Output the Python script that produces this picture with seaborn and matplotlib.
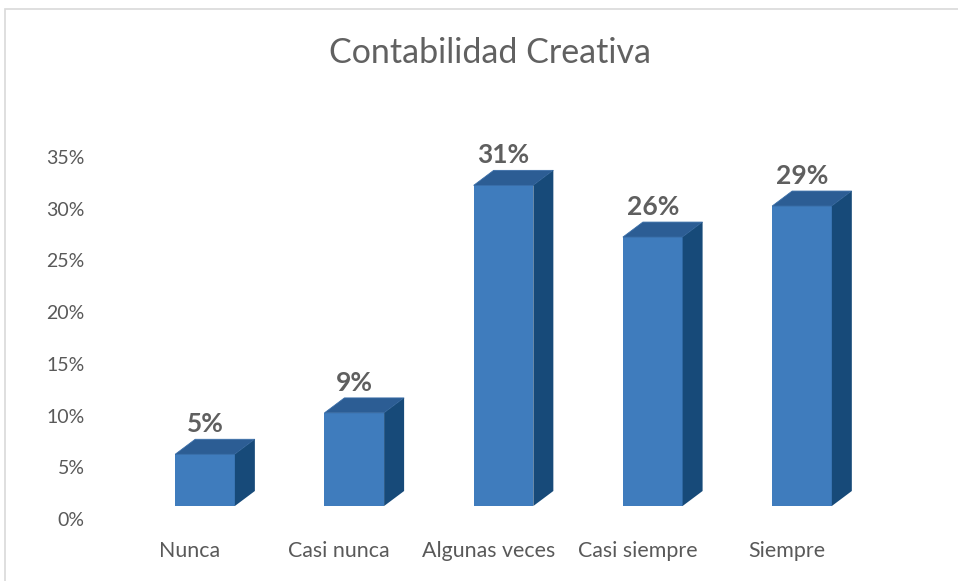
import matplotlib
matplotlib.use("Agg")
import matplotlib.pyplot as plt
import seaborn as sns
import pandas as pd
from matplotlib.patches import Polygon, Rectangle

categories = ["Nunca", "Casi nunca", "Algunas veces", "Casi siempre", "Siempre"]
values = [5, 9, 31, 26, 29]
labels = ["5%", "9%", "31%", "26%", "29%"]
yticks = [0, 5, 10, 15, 20, 25, 30, 35]
ytick_labels = ["0%", "5%", "10%", "15%", "20%", "25%", "30%", "35%"]
title = "Contabilidad Creativa"

sns.set_theme(style="white")
plt.rcParams["font.family"] = ["Lato", "DejaVu Sans"]

W, H = 958, 581
fig = plt.figure(figsize=(W / 100, H / 100), dpi=100)
fig.patch.set_facecolor("white")

# chart border
fig.patches.append(Rectangle((5 / W, -0.05), 1.0, 1 - 9 / H + 0.05, transform=fig.transFigure,
                             fill=False, edgecolor="#d9d9d9", linewidth=1.2))

TXT = "#595959"
ax_left, ax_w = 115.4, 746.2
unit = 10.343
ax = fig.add_axes([ax_left / W, 62 / H, ax_w / W, 35 * unit / H])
ax_bar = fig.add_axes([(ax_left + 15) / W, 75 / H, ax_w / W, 35 * unit / H])

df = pd.DataFrame({"cat": categories, "val": values})

# tick axis
ax.set_xlim(-0.5, 4.5)
ax.set_ylim(0, 35)
ax.set_yticks(yticks)
ax.set_yticklabels(ytick_labels)
ax.set_xticks(range(len(categories)))
ax.set_xticklabels(categories)
ax.tick_params(axis="y", length=0, pad=22, labelsize=14, labelcolor=TXT)
ax.tick_params(axis="x", length=0, pad=16, labelsize=15.4, labelcolor=TXT)
for s in ax.spines.values():
    s.set_visible(False)
ax.patch.set_alpha(0)

# bars
front, top, side = "#3f7cbd", "#2c5d94", "#174a79"
sns.barplot(data=df, x="cat", y="val", ax=ax_bar, width=0.4, color=front,
            saturation=1, edgecolor="none")
ax_bar.set_xlim(-0.5, 4.5)
ax_bar.set_ylim(0, 35)
ax_bar.axis("off")
ax_bar.patch.set_alpha(0)

inv = ax_bar.transData.inverted()
p0 = ax_bar.transData.transform((0, 0))
d = inv.transform((p0[0] + 20, p0[1] + 15))
ddx, ddy = d[0], d[1]

for bar, lab in zip(ax_bar.patches, labels):
    bar.set_clip_on(False)
    x0 = bar.get_x()
    x1 = x0 + bar.get_width()
    h = bar.get_height()
    ax_bar.add_patch(Polygon([(x0, h), (x1, h), (x1 + ddx, h + ddy), (x0 + ddx, h + ddy)],
                             closed=True, facecolor=top, edgecolor="#3a6ea8", linewidth=0.6,
                             clip_on=False))
    ax_bar.add_patch(Polygon([(x1, 0), (x1 + ddx, ddy), (x1 + ddx, h + ddy), (x1, h)],
                             closed=True, facecolor=side, edgecolor="none", clip_on=False))
    ax_bar.annotate(lab, (x0 + bar.get_width() / 2, h), xytext=(0, 30 * 0.72),
                    textcoords="offset points", ha="center", va="center",
                    fontsize=19, fontweight="bold", color="#5f5f5f", annotation_clip=False)

fig.text(490 / W, 1 - 53 / H, title, ha="center", va="center", fontsize=24.5, color="#616161")

fig.savefig("out.png", dpi=100, facecolor="white")
